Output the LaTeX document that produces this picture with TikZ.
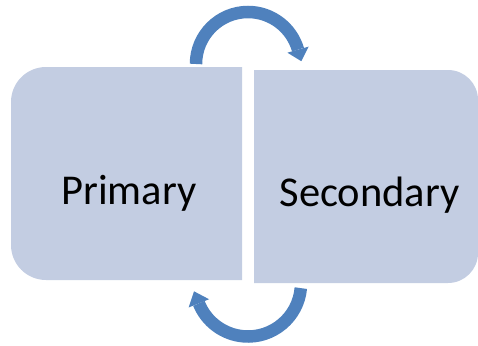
\documentclass[tikz,border=0pt]{standalone}
\usepackage{fontspec}
\setmainfont{Carlito}
\usetikzlibrary{calc}
\definecolor{boxfill}{RGB}{195,205,226}
\definecolor{arrowblue}{RGB}{79,129,189}
\tikzset{
  boxshape/.style={fill=boxfill},
  arcarrow/.style={draw=arrowblue, line width=12.5bp},
  arrowhead/.style={fill=arrowblue},
  label/.style={inner sep=0pt, anchor=base, font=\fontsize{42.5bp}{50bp}\selectfont}
}
\begin{document}
\begin{tikzpicture}[x=1bp,y=1bp]
\useasboundingbox (0,0) rectangle (478,345);
% boxes
\fill[boxshape] (242,65) -- (46,65) arc[start angle=270,end angle=180,radius=35]
  -- (11,243) arc[start angle=180,end angle=90,radius=35] -- (242,278) -- cycle;
\fill[boxshape] (254,62) -- (448,62) arc[start angle=-90,end angle=0,radius=30]
  -- (478,245) arc[start angle=0,end angle=90,radius=30] -- (254,275) -- cycle;
\node[label] (primary) at (129,141) {Primary};
\node[label] (secondary) at (369.5,138.5) {Secondary};
% top arrow
\coordinate (ctop) at (248,281);
\draw[arcarrow] ($(ctop)+(180:52)$) arc[start angle=180,end angle=16,radius=52];
\fill[arrowhead] ($(ctop)+(16:41)$) -- ($(ctop)+(16:63)$) -- ($(ctop)+(16:52)+(-74:12)$) -- cycle;
% bottom arrow
\coordinate (cbot) at (248,61.5);
\draw[arcarrow] ($(cbot)+(-5:53)$) arc[start angle=-5,end angle=-158,radius=53];
\fill[arrowhead] ($(cbot)+(-158:42)$) -- ($(cbot)+(-158:64)$) -- ($(cbot)+(-158:53)+(112:13)$) -- cycle;
\end{tikzpicture}
\end{document}
